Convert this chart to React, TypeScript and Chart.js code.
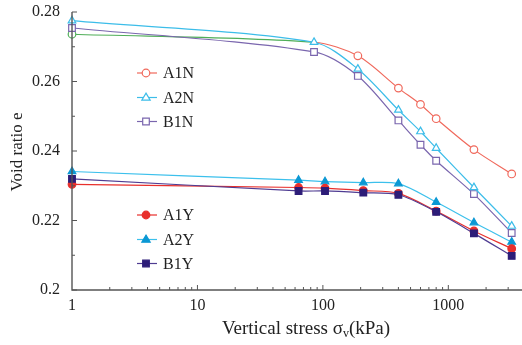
import React, { useEffect, useRef } from "react";
import { Chart, registerables } from "chart.js";

Chart.register(...registerables);

const X_N = [1, 85, 190, 400, 600, 800, 1600, 3200];
const A1N = [0.2736, 0.2713, 0.2674, 0.2581, 0.2534, 0.2493, 0.2404, 0.2334];
const A2N = [0.2775, 0.2713, 0.2636, 0.2518, 0.2456, 0.2408, 0.2295, 0.2184];
const B1N = [0.2754, 0.2685, 0.2616, 0.2488, 0.2418, 0.2372, 0.2276, 0.2164];

const X_Y = [1, 64, 104, 210, 400, 800, 1600, 3200];
const A1Y = [0.2304, 0.2295, 0.2293, 0.2286, 0.2278, 0.2227, 0.217, 0.2119];
const A2Y = [0.2341, 0.2316, 0.2312, 0.2309, 0.2306, 0.2253, 0.2194, 0.2138];
const B1Y = [0.232, 0.2285, 0.2285, 0.228, 0.2274, 0.2225, 0.2163, 0.2098];

const X_LABELS = [1, 10, 100, 1000];
const Y_MIN = 0.2;
const Y_MAX = 0.28;
const X_MIN = 1;
const X_MAX = 3470;

const FONT = "'Liberation Serif', 'Times New Roman', serif";

const C = {
  green: "#4fae58",
  a1n: "#f0695c",
  a2n: "#3cbde9",
  b1n: "#7a66ae",
  a1y: "#e8302c",
  a2yLine: "#3cc0ec",
  a2yPt: "#0b98d4",
  b1yLine: "#4f3c92",
  b1yPt: "#2d1d78",
  axis: "#555555",
};

const pts = (xs: number[], ys: number[]) => xs.map((x, i) => ({ x, y: ys[i] }));

const LEGEND = [
  { label: "A1N", y: 73, line: C.a1n, pt: C.a1n, style: "circle", fill: false },
  { label: "A2N", y: 97.5, line: C.a2n, pt: C.a2n, style: "triangle", fill: false },
  { label: "B1N", y: 121.5, line: C.b1n, pt: C.b1n, style: "rect", fill: false },
  { label: "A1Y", y: 215, line: C.a1y, pt: C.a1y, style: "circle", fill: true },
  { label: "A2Y", y: 239.5, line: C.a2yLine, pt: C.a2yPt, style: "triangle", fill: true },
  { label: "B1Y", y: 263.5, line: C.b1yLine, pt: C.b1yPt, style: "rect", fill: true },
];

function drawMarker(ctx: CanvasRenderingContext2D, style: string, x: number, y: number, color: string, fill: boolean) {
  ctx.save();
  ctx.strokeStyle = color;
  ctx.fillStyle = fill ? color : "#ffffff";
  ctx.lineWidth = 1.2;
  ctx.beginPath();
  if (style === "circle") {
    ctx.arc(x, y, 3.8, 0, Math.PI * 2);
  } else if (style === "triangle") {
    const r = 4.4;
    ctx.moveTo(x, y - r);
    ctx.lineTo(x + r * 0.95, y + r * 0.6);
    ctx.lineTo(x - r * 0.95, y + r * 0.6);
    ctx.closePath();
  } else {
    const s = 3.3;
    ctx.rect(x - s, y - s, 2 * s, 2 * s);
  }
  ctx.fill();
  ctx.stroke();
  ctx.restore();
}

const decorPlugin = {
  id: "decor",
  afterDatasetsDraw(chart: any) {
    const ctx: CanvasRenderingContext2D = chart.ctx;
    const { left, top, bottom } = chart.chartArea;
    const xs = chart.scales.x;
    const ys = chart.scales.y;
    ctx.save();
    ctx.strokeStyle = C.axis;
    ctx.lineWidth = 1.4;
    ctx.beginPath();
    ctx.moveTo(left, top);
    ctx.lineTo(left, bottom);
    ctx.lineTo(522, bottom);
    ctx.stroke();
    ctx.lineWidth = 1;
    for (let k = 0; k <= 8; k++) {
      const v = Y_MIN + k * 0.01;
      const py = ys.getPixelForValue(v);
      const len = k % 2 === 0 ? 5 : 3;
      ctx.beginPath();
      ctx.moveTo(left, py);
      ctx.lineTo(left + len, py);
      ctx.stroke();
    }
    for (let d = 1; d <= 1000; d *= 10) {
      for (let m = 1; m <= 9; m++) {
        const v = d * m;
        if (v > 4000 || v === 1) continue;
        const px = xs.getPixelForValue(v);
        if (px > 521) continue;
        const len = m === 1 ? 5 : 3;
        ctx.beginPath();
        ctx.moveTo(px, bottom);
        ctx.lineTo(px, bottom - len);
        ctx.stroke();
      }
    }
    ctx.font = `16px ${FONT}`;
    ctx.textBaseline = "middle";
    ctx.textAlign = "left";
    for (const e of LEGEND) {
      ctx.strokeStyle = e.line;
      ctx.lineWidth = 1.2;
      ctx.beginPath();
      ctx.moveTo(137, e.y);
      ctx.lineTo(157, e.y);
      ctx.stroke();
      drawMarker(ctx, e.style, 146, e.y, e.pt, e.fill);
      ctx.fillStyle = "#222222";
      ctx.fillText(e.label, 163, e.y + 1);
    }
    ctx.fillStyle = "#222222";
    ctx.textBaseline = "alphabetic";
    const t1 = "Vertical stress \u03C3";
    const t2 = "v";
    const t3 = "(kPa)";
    ctx.font = `19px ${FONT}`;
    const w1 = ctx.measureText(t1).width;
    const w3 = ctx.measureText(t3).width;
    ctx.font = `12px ${FONT}`;
    const w2 = ctx.measureText(t2).width;
    const total = w1 + w2 + w3;
    const x0 = 306 - total / 2;
    const base = 334;
    ctx.font = `19px ${FONT}`;
    ctx.fillText(t1, x0, base);
    ctx.font = `12px ${FONT}`;
    ctx.fillText(t2, x0 + w1, base + 3);
    ctx.font = `19px ${FONT}`;
    ctx.fillText(t3, x0 + w1 + w2, base);
    ctx.save();
    ctx.translate(18, 152);
    ctx.rotate(-Math.PI / 2);
    ctx.textAlign = "center";
    ctx.textBaseline = "middle";
    ctx.font = `17px ${FONT}`;
    ctx.fillText("Void ratio e", 0, 0);
    ctx.restore();
    ctx.restore();
  },
};

export default function App() {
  const ref = useRef<HTMLCanvasElement | null>(null);
  useEffect(() => {
    if (!ref.current) return;
    const line = (label: string, xs: number[], ys: number[], lineColor: string, ptColor: string, style: string, fill: boolean, extra: any = {}) => ({
      label,
      data: pts(xs, ys),
      borderColor: lineColor,
      borderWidth: 1.2,
      pointStyle: style,
      pointBorderColor: ptColor,
      pointBackgroundColor: fill ? ptColor : "#ffffff",
      pointBorderWidth: 1.2,
      pointRadius: style === "rect" ? 4.7 : style === "triangle" ? 4.4 : 3.8,
      tension: 0.3,
      fill: false,
      ...extra,
    });
    const chart = new Chart(ref.current, {
      type: "line",
      data: {
        datasets: [
          line("B1Y", X_Y, B1Y, C.b1yLine, C.b1yPt, "rect", true),
          line("A1Y", X_Y, A1Y, C.a1y, C.a1y, "circle", true),
          line("A2Y", X_Y, A2Y, C.a2yLine, C.a2yPt, "triangle", true),
          line("A2N", X_N, A2N, C.a2n, C.a2n, "triangle", false),
          line("B1N", X_N, B1N, C.b1n, C.b1n, "rect", false),
          line("A1N", X_N, A1N, C.a1n, C.a1n, "circle", false, {
            segment: { borderColor: (c: any) => (c.p0DataIndex === 0 ? C.green : C.a1n) },
            pointBorderColor: X_N.map((_, i) => (i === 0 ? C.green : C.a1n)),
            pointRadius: X_N.map((_, i) => (i === 1 ? 0 : 3.8)),
          }),
        ],
      },
      options: {
        responsive: false,
        animation: false,
        clip: false,
        layout: { padding: { top: 12, right: 0, left: 0, bottom: 0 } },
        plugins: { legend: { display: false }, tooltip: { enabled: false } },
        scales: {
          x: {
            type: "logarithmic",
            min: X_MIN,
            max: X_MAX,
            border: { display: false },
            grid: { display: false, drawTicks: false },
            afterFit: (s: any) => {
              s.height = 55;
              s.paddingLeft = 0;
              s.paddingRight = 0;
            },
            afterBuildTicks: (s: any) => {
              s.ticks = X_LABELS.map((v) => ({ value: v }));
            },
            ticks: {
              autoSkip: false,
              maxRotation: 0,
              padding: 6,
              color: "#222222",
              font: { family: FONT, size: 16 },
              callback: (v: any) => String(v),
            },
          },
          y: {
            min: Y_MIN,
            max: Y_MAX,
            border: { display: false },
            grid: { display: false, drawTicks: false },
            afterFit: (s: any) => {
              s.width = 72;
              s.paddingTop = 0;
              s.paddingBottom = 0;
            },
            ticks: {
              stepSize: 0.02,
              padding: 12,
              color: "#222222",
              font: { family: FONT, size: 16 },
              callback: (v: any) => String(Math.round(Number(v) * 100) / 100),
            },
          },
        },
      } as any,
      plugins: [decorPlugin],
    });
    return () => chart.destroy();
  }, []);
  return (
    <div style={{ position: "fixed", left: 0, top: 0, width: 522, height: 345, background: "#ffffff" }}>
      <canvas ref={ref} width={522} height={345} style={{ display: "block" }} />
    </div>
  );
}
